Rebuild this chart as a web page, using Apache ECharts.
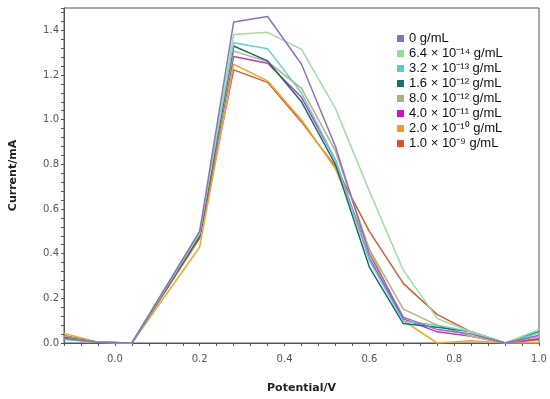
<!DOCTYPE html>
<html>
<head>
<meta charset="utf-8">
<script src="https://cdn.jsdelivr.net/npm/echarts@6/dist/echarts.min.js"></script>
<style>html,body{margin:0;padding:0;background:#fff}#c{width:550px;height:399px}</style>
</head>
<body>
<div id="c"></div>
<script>
const potential = [-0.12, -0.04, 0.04, 0.2, 0.28, 0.36, 0.44, 0.52, 0.6, 0.68, 0.76, 0.84, 0.92, 1.0];
const names = ['0 g/mL','6.4 × 10⁻¹⁴ g/mL','3.2 × 10⁻¹³ g/mL','1.6 × 10⁻¹² g/mL','8.0 × 10⁻¹² g/mL','4.0 × 10⁻¹¹ g/mL','2.0 × 10⁻¹⁰ g/mL','1.0 × 10⁻⁹ g/mL'];
const s0   = [0.020, 0.003, 0, 0.50, 1.437, 1.462, 1.248, 0.88, 0.40, 0.116, 0.06, 0.04, 0, 0.035];
const s064 = [0.020, 0.003, 0, 0.49, 1.381, 1.391, 1.315, 1.05, 0.68, 0.326, 0.11, 0.05, 0, 0.060];
const s32  = [0.016, 0.003, 0, 0.50, 1.344, 1.318, 1.120, 0.82, 0.37, 0.097, 0.08, 0.05, 0, 0.046];
const s16  = [0.025, 0.003, 0, 0.48, 1.330, 1.263, 1.080, 0.80, 0.34, 0.087, 0.07, 0.05, 0, 0.050];
const s80  = [0.030, 0.003, 0, 0.49, 1.307, 1.260, 1.140, 0.86, 0.42, 0.152, 0.08, 0.03, 0, 0.030];
const s40  = [0.020, 0.003, 0, 0.48, 1.283, 1.253, 1.100, 0.82, 0.38, 0.108, 0.05, 0.03, 0, 0.020];
const s20  = [0.043, 0.003, 0, 0.43, 1.248, 1.174, 1.000, 0.78, 0.42, 0.100, 0.00, 0.01, 0, 0.000];
const s10  = [0.034, 0.003, 0, 0.47, 1.223, 1.167, 0.990, 0.79, 0.50, 0.267, 0.127, 0.05, 0, 0.015];
const values = [s0, s064, s32, s16, s80, s40, s20, s10];
const lineColors = ['#8d70c0','#a0dca0','#60d0d0','#1f6b6b','#b8b080','#b040c8','#f0a830','#c86038'];
const iconColors = ['#8a6cc8','#90e090','#50d0d0','#1a7070','#b0ad80','#d010d0','#f0a020','#e05020'];

const labelFmt = v => { const r = Math.round(v*100); return (r % 20 === 0) ? (r/100).toFixed(1) : ''; };
const chart = echarts.init(document.getElementById('c'));
chart.setOption({
  animation: false,
  grid: {left: 63, right: 11, top: 8, bottom: 52, show: true, borderColor: '#555', borderWidth: 1},
  legend: {
    orient: 'vertical', left: 392, top: 27, itemWidth: 7, itemHeight: 7, itemGap: 2,
    icon: 'rect',
    textStyle: {fontFamily: 'Liberation Sans, Arial, sans-serif', fontSize: 13, color: '#111', lineHeight: 13},
    data: names
  },
  xAxis: {
    type: 'value', min: -0.12, max: 1.0, interval: 0.04,
    name: 'Potential/V', nameLocation: 'middle', nameGap: 40,
    nameTextStyle: {fontFamily: 'DejaVu Sans', fontWeight: 'bold', fontSize: 11, color: '#222'},
    axisLine: {show: true, onZero: false, lineStyle: {color: '#555'}},
    axisTick: {show: true, length: 3, lineStyle: {color: '#555'}},
    splitLine: {show: false},
    axisLabel: {formatter: labelFmt, fontFamily: 'DejaVu Sans', fontSize: 10, color: '#555', margin: 11}
  },
  yAxis: {
    type: 'value', min: 0, max: 1.5, interval: 0.04,
    name: 'Current/mA', nameLocation: 'middle', nameGap: 45, nameRotate: 90,
    nameTextStyle: {fontFamily: 'DejaVu Sans', fontWeight: 'bold', fontSize: 11, color: '#222'},
    axisLine: {show: true, onZero: false, lineStyle: {color: '#555'}},
    axisTick: {show: true, length: 3, lineStyle: {color: '#555'}},
    splitLine: {show: false},
    axisLabel: {formatter: v => (Math.round(v*100) === 150 ? '' : labelFmt(v)), fontFamily: 'DejaVu Sans', fontSize: 10, color: '#555', margin: 5}
  },
  series: values.map((vals, i) => ({
    name: names[i], type: 'line', showSymbol: false, symbol: 'none',
    data: vals.map((v, j) => [potential[j], v]),
    lineStyle: {color: lineColors[i], width: 1.5},
    itemStyle: {color: iconColors[i]},
    z: 10 - i
  }))
});
</script>
</body>
</html>
